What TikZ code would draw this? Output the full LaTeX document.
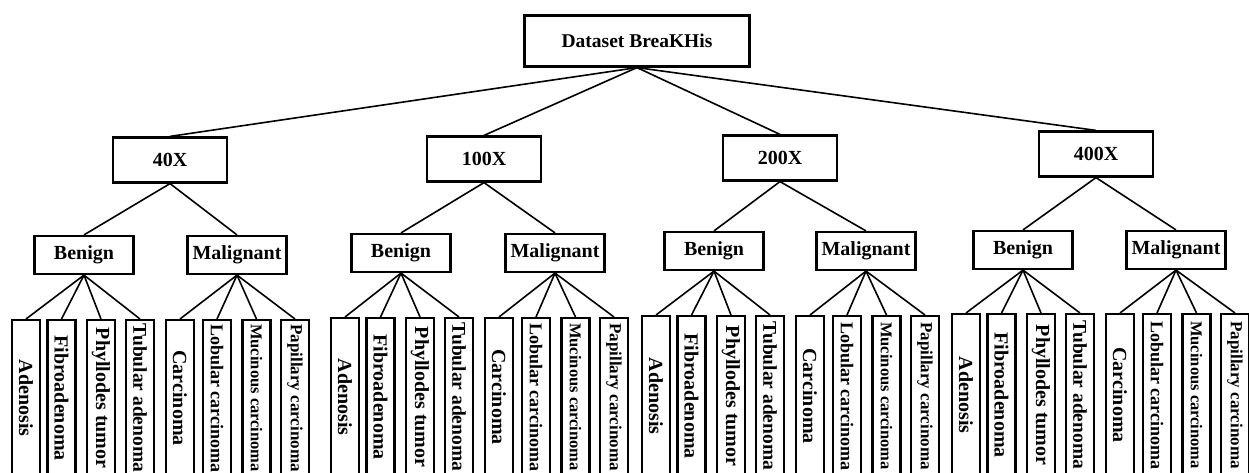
\documentclass[tikz,border=0pt]{standalone}
\usepackage{fontspec}
\setmainfont{Liberation Serif}
\usetikzlibrary{positioning}
\tikzstyle{box} = [rectangle, draw=black, line width=2.2pt, inner sep=0pt, text centered, font=\bfseries\fontsize{20}{24}\selectfont]
\tikzstyle{root} = [box, minimum width=225pt, minimum height=51pt, font=\bfseries\fontsize{19.5}{23}\selectfont]
\tikzstyle{mag} = [box, minimum width=114pt, minimum height=45pt]
\tikzstyle{cls} = [box, minimum width=99pt, minimum height=38pt]
\tikzstyle{leaf} = [box, rotate=-90, anchor=west, minimum height=28pt]
\tikzstyle{line} = [line width=1.6pt]

\begin{document}
\begin{tikzpicture} [x=1pt, y=-1pt]
\useasboundingbox (0,0) rectangle (1249,473);
\clip (0,0) rectangle (1249,473);
\node (root) [root] at (637,41) {Dataset BreaKHis};

\foreach \g/\txt/\mx/\my/\bx/\mlx/\cy/\lx/\ly in
  {1/40X/170/160/84/237/255/13/319, 2/100X/484/159/401/555/253/332/317,
   3/200X/780/158/714/866/251/643/315, 4/400X/1096/154/1023/1176/250/953/313}{
  \node (mag\g) [mag] at (\mx,\my) {\txt};
  \node (ben\g) [cls] at (\bx,\cy) {Benign};
  \node (mal\g) [cls] at (\mlx,\cy) {Malignant};
  \draw [line] (root.south) -- (mag\g.north);
  \draw [line] (mag\g.south) -- (ben\g.north);
  \draw [line] (mag\g.south) -- (mal\g.north);
  % benign classes
  \foreach \i/\dx/\name/\fs in {1/13/Adenosis/20, 2/48.5/Fibroadenoma/20,
      3/88/Phyllodes tumor/20, 4/127/Tubular adenoma/19.5}{
    \node (leaf\g\i) [leaf, minimum width=475pt-\ly pt, font=\bfseries\fontsize{\fs}{\fs}\selectfont] at (\lx+\dx,\ly) {\name};
    \draw [line] (ben\g.south) -- (leaf\g\i.west);
  }
  % malignant classes
  \foreach \i/\dx/\name/\fs in {5/167/Carcinoma/20, 6/204/Lobular carcinoma/18,
      7/243.5/Mucinous carcinoma/16.5, 8/282/Papillary carcinoma/17}{
    \node (leaf\g\i) [leaf, minimum width=475pt-\ly pt, font=\bfseries\fontsize{\fs}{\fs}\selectfont] at (\lx+\dx,\ly) {\name};
    \draw [line] (mal\g.south) -- (leaf\g\i.west);
  }
}
\end{tikzpicture}
\end{document}
